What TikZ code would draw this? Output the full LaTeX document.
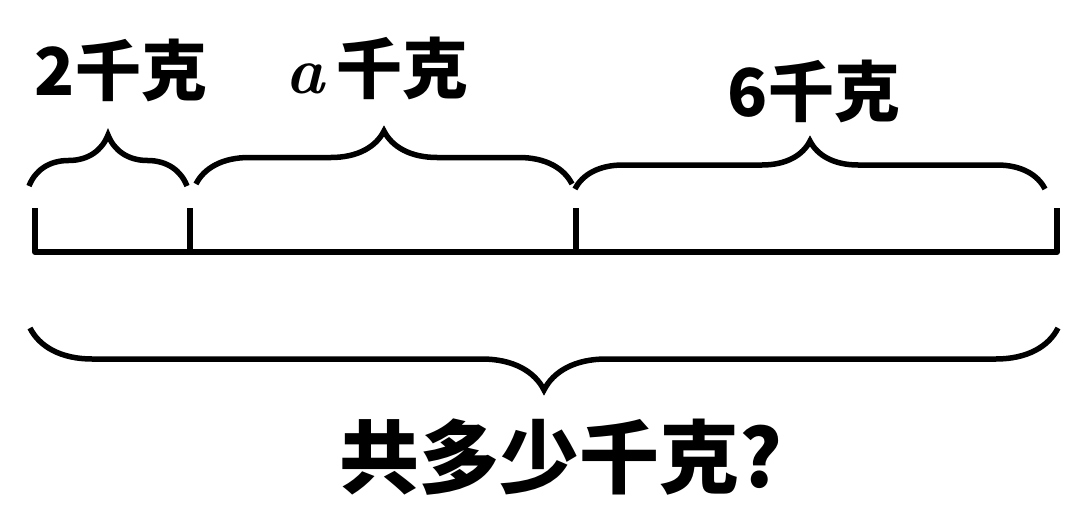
\documentclass[tikz,border=0pt]{standalone}
\usepackage{fontspec}
\setmainfont{Noto Sans CJK SC}
\newfontfamily\lmfont{Latin Modern Roman}
\usetikzlibrary{decorations.pathreplacing}
\tikzset{
  seg/.style={line width=6pt},
  brc/.style={line width=5.5pt,decorate,decoration={brace,amplitude=#1}},
  lbl/.style={inner sep=0pt,font=\bfseries\fontsize{66}{70}\selectfont},
}
\begin{document}
\begin{tikzpicture}[x=1pt,y=-1pt]
\useasboundingbox (0,0) rectangle (1066,511);
\coordinate (p0) at (35,252);
\coordinate (p1) at (190,252);
\coordinate (p2) at (576,252);
\coordinate (p3) at (1057,252);
%
\draw[seg,line cap=round] (p0)--(p3);
\foreach \p in {p0,p1,p2,p3}
  \draw[seg] (\p)--++(0,-44);
%
\coordinate (a0) at (29,186);
\coordinate (a1) at (187,186);
\coordinate (b0) at (196,184);
\coordinate (b1) at (572,184);
\coordinate (c0) at (575,189);
\coordinate (c1) at (1045,189);
\coordinate (d0) at (1058,328);
\coordinate (d1) at (30,328);
\draw[brc=51] (a0)--(a1);
\draw[brc=53] (b0)--(b1);
\draw[brc=48] (c0)--(c1);
\draw[brc=62] (d0)--(d1);
%
\node[lbl] (w1) at (121,70) {2千克};
\node[lbl] (w2) at (377,68) {{\lmfont\itshape\bfseries a}\,千克};
\node[lbl] (w3) at (814,91) {6千克};
\node[lbl,font=\bfseries\fontsize{80}{84}\selectfont] (tot) at (561,457) {共多少千克?};
\end{tikzpicture}
\end{document}
